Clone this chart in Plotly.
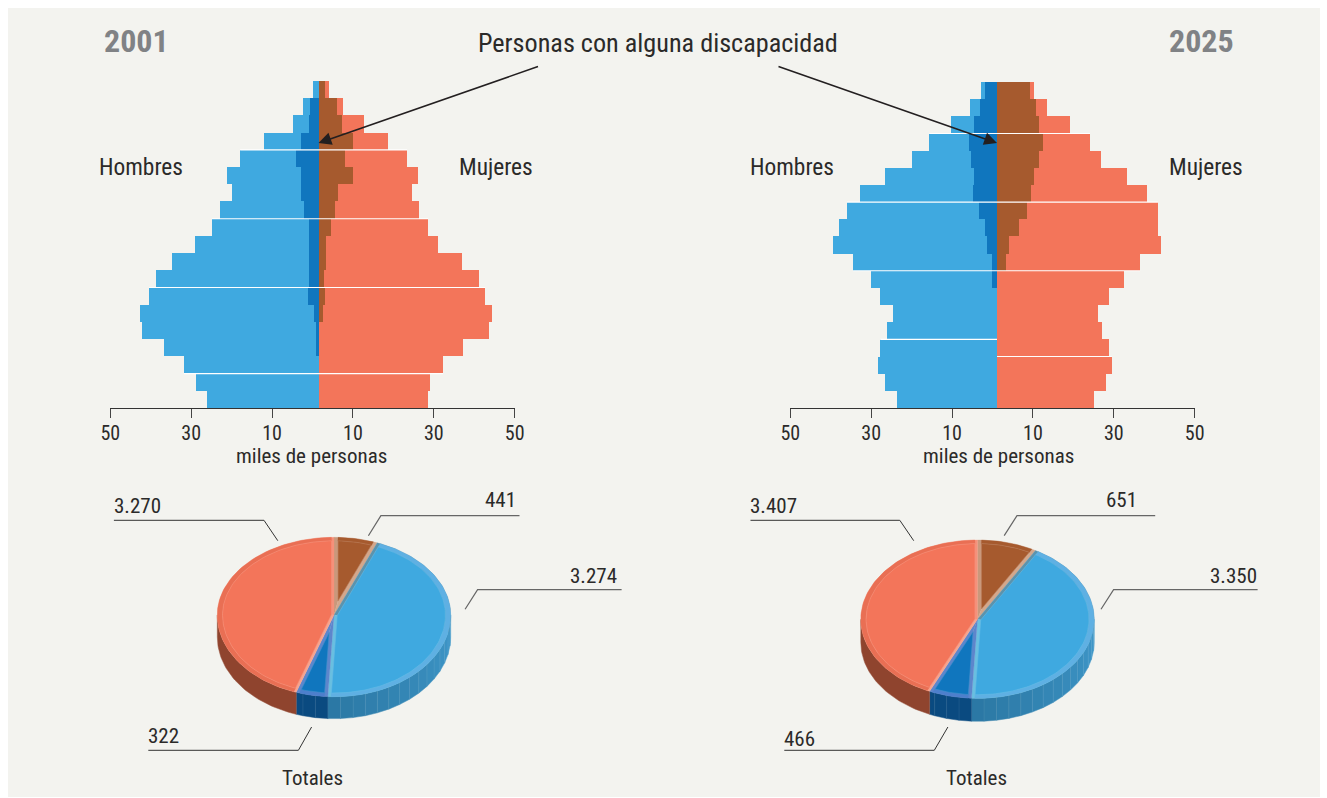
import math
import plotly.graph_objects as go

W, H = 1327, 798
FONT = "Liberation Sans Narrow, Roboto Condensed, Liberation Sans, sans-serif"
INK = "#2b2a29"

# ---- data (miles de personas, rows from oldest at top to youngest at bottom)
ROWS = list(range(19))
M01 = [1.5, 4.0, 6.4, 13.6, 19.5, 22.8, 21.5, 24.5, 26.5, 30.7, 36.4, 40.3, 42.0, 44.3, 43.8, 38.3, 33.4, 30.4, 27.7]
MD01 = [0, 2.2, 2.5, 4.5, 5.7, 4.5, 4.5, 3.7, 2.5, 2.5, 2.5, 2.5, 2.7, 1.2, 0.7, 0.7, 0, 0, 0]
F01 = [2.5, 5.9, 11.1, 17.1, 21.8, 24.5, 23.0, 24.7, 27.0, 29.4, 35.4, 39.6, 41.1, 42.8, 42.0, 35.6, 30.7, 27.5, 27.0]
FD01 = [1.5, 4.5, 5.7, 8.4, 6.4, 8.4, 4.7, 4.0, 3.0, 1.7, 1.7, 1.2, 1.5, 1.0, 0, 0, 0, 0, 0]
M25 = [4.0, 6.7, 11.4, 16.8, 21.0, 27.7, 33.9, 37.1, 39.1, 40.6, 35.6, 31.2, 28.9, 25.7, 27.2, 28.9, 29.4, 27.7, 24.7]
MD25 = [3.0, 4.2, 5.7, 6.9, 6.4, 5.7, 5.9, 4.5, 3.0, 2.5, 1.2, 1.2, 0, 0, 0, 0, 0, 0, 0]
F25 = [9.2, 12.4, 18.1, 23.0, 25.7, 32.2, 37.1, 39.8, 39.8, 40.6, 35.4, 31.4, 27.7, 25.0, 26.0, 27.7, 28.4, 27.0, 24.0]
FD25 = [8.2, 9.6, 10.4, 11.4, 10.4, 9.2, 8.4, 7.4, 5.4, 3.0, 2.2, 0, 0, 0, 0, 0, 0, 0, 0]
TICK_VALUES = [-50, -30, -10, 10, 30, 50]
TICK_LABELS = ["50", "30", "10", "10", "30", "50"]

# pie totals: women with disability, men without, men with, women without
PIE01 = [441, 3274, 322, 3270]
PIE25 = [651, 3350, 466, 3407]

C_M, C_MD, C_F, C_FD = "#3fa9e0", "#1076be", "#f3755a", "#a65a2e"


def dx(p):
    return p / W


def dy(p):
    return 1 - p / H


def domx(a, b):
    return [dx(a), dx(b)]


def domy(top, bottom):
    return [dy(bottom), dy(top)]


fig = go.Figure()


# ---- pyramids
def pyramid(m, md, f, fd, xt, xb, y):
    fig.add_trace(go.Scatter(x=[-50, 50], y=[0, 0], mode="markers", marker=dict(opacity=0),
                             xaxis=xt, yaxis=y, hoverinfo="skip"))
    for vals, col, sign, nm in [(m, C_M, -1, "Hombres"), (f, C_F, 1, "Mujeres"),
                                (md, C_MD, -1, "Hombres con discapacidad"),
                                (fd, C_FD, 1, "Mujeres con discapacidad")]:
        fig.add_trace(go.Bar(y=ROWS, x=[sign * v for v in vals], orientation="h", width=1, name=nm,
                             marker=dict(color=col, line=dict(width=0)), xaxis=xb, yaxis=y))


pyramid(M01, MD01, F01, FD01, "x", "x2", "y")
pyramid(M25, MD25, F25, FD25, "x3", "x4", "y2")

PX_PER_UNIT = 4.044
shapes = [dict(type="rect", xref="paper", yref="paper", x0=dx(8), x1=dx(1320), y0=dy(797), y1=dy(8),
               fillcolor="#f3f3ef", line=dict(width=0), layer="below")]


def seam(xref, yref, row_edge, m, f, left=True, right=True):
    i, j = int(row_edge - 0.5), int(row_edge + 0.5)
    shapes.append(dict(type="line", xref=xref, yref=yref,
                       x0=-max(m[i], m[j]) if left else 0,
                       x1=max(f[i], f[j]) if right else 0,
                       y0=row_edge, y1=row_edge, line=dict(color="#ffffff", width=1.1)))


for e in [3.5, 7.5, 11.5, 16.5]:
    seam("x2", "y", e, M01, F01)
for e in [2.5, 6.5, 10.5]:
    seam("x4", "y2", e, M25, F25)
seam("x4", "y2", 14.5, M25, F25, right=False)
seam("x4", "y2", 15.5, M25, F25, left=False)


# ---- 3D pies
def mix(a, b, t):
    ca = [int(a[i:i + 2], 16) for i in (1, 3, 5)]
    cb = [int(b[i:i + 2], 16) for i in (1, 3, 5)]
    return "#%02x%02x%02x" % tuple(round(p + (q - p) * t) for p, q in zip(ca, cb))


def poly(xa, ya, xs, ys, fill, line=None, lw=0):
    fig.add_trace(go.Scatter(x=xs, y=ys, mode="lines", fill="toself", fillcolor=fill,
                             line=dict(color=line or fill, width=lw if line else 0.3),
                             xaxis=xa, yaxis=ya, hoverinfo="skip"))


def pie(values, xa, ya, ry_top, ry_bot, depth):
    RX = 116.7

    def pt(r, deg, drop=0):
        t = math.radians(deg)
        c = math.cos(t)
        return RX * r * math.sin(t), (ry_top if c > 0 else ry_bot) * r * c - drop

    total = sum(values)
    edges = [0]
    for v in values:
        edges.append(edges[-1] + v * 360 / total)

    def arc(r, a, b, drop=0, step=1.5):
        n = max(2, int(abs(b - a) / step) + 1)
        return [pt(r, a + (b - a) * k / (n - 1), drop) for k in range(n)]

    # side wall, visible on the lower half of the disc
    wall = [("#3f98ca", "#2a76a2", 6.2), ("#0a4a80", "#0a4a80", 6.2), ("#8f442e", "#8f442e", 200)]
    for (c0, c1, step), a, b in zip(wall, edges[1:4], edges[2:5]):
        a2, b2 = max(a, 90), min(b, 270)
        k = 0
        while a2 + k * step < b2:
            s, e = a2 + k * step, min(b2, a2 + (k + 1) * step)
            top = arc(1, s, e)
            low = arc(1, e, s, depth)
            pts = top + low + top[:1]
            col = mix(c0, c1, (s - a2) / max(1, b2 - a2))
            poly(xa, ya, [p[0] for p in pts], [p[1] for p in pts], col, mix(col, "#ffffff", 0.1), 0.5)
            k += 1

    # top surface: slice colour, bevel strips along the radii, rim along the arc
    styles = [
        (C_FD, "#c9987c", "#d3a78c", "#a65a2e", 0.035),
        (C_M, "#5b93ad", "#69bfe0", "#5fb0e3", 0.028),
        (C_MD, "#5d86cc", "#5d86cc", "#4d7fcc", 0.03),
        (C_F, "#f7a38d", "#f5917a", "#e96f54", 0.022),
    ]
    R_IN = 0.955
    for (base, s0, s1, rim, d), a, b in zip(styles, edges[:4], edges[1:5]):
        mid = (a + b) / 2
        for sa, sb, col in [(a, mid, s0), (mid, b, s1)]:
            pts = [(0, 0)] + arc(1, sa, sb) + [(0, 0)]
            poly(xa, ya, [p[0] for p in pts], [p[1] for p in pts], col)
        inner_a = a + math.degrees(math.asin(d))
        inner_b = b - math.degrees(math.asin(d))
        pts = arc(1, inner_a, inner_b) + arc(R_IN, inner_b, inner_a)
        pts.append(pts[0])
        poly(xa, ya, [p[0] for p in pts], [p[1] for p in pts], rim)
        half = math.radians((b - a) / 2)
        apex = pt(d / math.sin(half), mid)
        ia = a + math.degrees(math.asin(d / R_IN))
        ib = b - math.degrees(math.asin(d / R_IN))
        pts = [apex] + arc(R_IN, ia, ib) + [apex]
        poly(xa, ya, [p[0] for p in pts], [p[1] for p in pts], base, mix(base, "#ffffff", 0.2), 0.6)


pie(PIE01, "x5", "y3", 77.7, 81.7, 22)
pie(PIE25, "x6", "y4", 79.3, 79.0, 23)


# ---- texts
def label(text, x, y, anchor="center", size=21, color=INK, bold=False):
    fig.add_annotation(xref="paper", yref="paper", x=dx(x), y=dy(y), text=f"<b>{text}</b>" if bold else text,
                       showarrow=False, xanchor=anchor, yanchor="middle",
                       font=dict(family=FONT, size=size, color=color))


label("2001", 102, 41, "left", 32, "#808285", True)
label("2025", 1167, 41, "left", 32, "#808285", True)
label("Personas con alguna discapacidad", 658, 43, "center", 26.2)
for x, t in [(97, "Hombres"), (457, "Mujeres"), (748, "Hombres"), (1167, "Mujeres")]:
    label(t, x, 167, "left", 23.4)
label("miles de personas", 311.7, 456)
label("miles de personas", 998.5, 456)
label("Totales", 312, 778)
label("Totales", 976, 778)
for t, x, y, a in [("3.270", 112, 506, "left"), ("441", 518, 500, "right"), ("3.274", 619, 575.7, "right"),
                   ("322", 146, 736, "left"), ("3.407", 748, 506, "left"), ("651", 1139, 500, "right"),
                   ("3.350", 1259, 575.7, "right"), ("466", 782, 738.5, "left")]:
    label(t, x, y, a)

for tip_x, tip_y, ax, ay in [(318.5, 143, 221, -77), (997, 143, -220, -77)]:
    fig.add_annotation(xref="paper", yref="paper", x=dx(tip_x), y=dy(tip_y), ax=ax, ay=ay, axref="pixel",
                       ayref="pixel", showarrow=True, arrowhead=2, arrowsize=1.6, arrowwidth=1.6,
                       arrowcolor="#231f20", text="")


# ---- leader lines
def leader(points, color="#333333", width=1):
    path = "M " + " L ".join(f"{dx(x):.5f} {dy(y):.5f}" for x, y in points)
    shapes.append(dict(type="path", xref="paper", yref="paper", path=path, line=dict(color=color, width=width)))


leader([(113.9, 520.3), (264, 520.3), (277.8, 540.7)])
leader([(519.5, 515.7), (380.9, 515.7), (368.4, 535.7)], "#666666", 1.2)
leader([(621.6, 589.7), (477.6, 589.7), (465.1, 609.3)], "#666666", 1.2)
leader([(148.3, 750.3), (298.4, 750.3), (311.6, 727)])
leader([(750.5, 520.3), (899.8, 520.3), (913.7, 540.7)])
leader([(1155.2, 515.7), (1017, 515.7), (1004.2, 535.7)], "#666666", 1.2)
leader([(1257.6, 589.7), (1113.6, 589.7), (1101, 609.3)], "#666666", 1.2)
leader([(784.3, 750.3), (934.3, 750.3), (947.9, 727)])


# ---- axes
def tick_axis(a, b, anchor):
    return dict(domain=domx(a, b), range=[-50, 50], anchor=anchor, tickmode="array", tickvals=TICK_VALUES,
                ticktext=TICK_LABELS, ticks="outside", ticklen=9, tickwidth=1, tickcolor="#444444",
                showline=True, linecolor="#333333", linewidth=1, showgrid=False, zeroline=False,
                ticklabelstandoff=-2,
                tickfont=dict(family=FONT, size=20, color=INK), fixedrange=True)


def bar_axis(a, b, center, over, anchor):
    left = (center - a) / PX_PER_UNIT
    return dict(domain=domx(a, b), range=[-left, 100 - left], overlaying=over, anchor=anchor, visible=False,
                fixedrange=True)


def hidden(dom, rng, anchor):
    return dict(domain=dom, range=rng, anchor=anchor, visible=False, fixedrange=True)


fig.update_layout(
    width=W, height=H, margin=dict(l=0, r=0, t=0, b=0, autoexpand=False), paper_bgcolor="#ffffff",
    plot_bgcolor="rgba(0,0,0,0)",
    showlegend=False, barmode="overlay", bargap=0, shapes=shapes,
    xaxis=tick_axis(110.3, 514.7, "y"),
    xaxis2=bar_axis(110.3, 514.7, 319, "x", "y"),
    xaxis3=tick_axis(790.3, 1194.7, "y2"),
    xaxis4=bar_axis(790.3, 1194.7, 997, "x3", "y2"),
    yaxis=hidden(domy(81, 408), [18.5, -0.5], "x"),
    yaxis2=hidden(domy(82, 408), [18.5, -0.5], "x3"),
    xaxis5=hidden(domx(190, 470), [-144, 136], "y3"),
    yaxis3=hidden(domy(515, 735), [-120, 100], "x5"),
    xaxis6=hidden(domx(834, 1114), [-143.5, 136.5], "y4"),
    yaxis4=hidden(domy(515, 735), [-115.7, 104.3], "x6"),
)

fig.write_html("out.html", config={"displayModeBar": False},
               post_script="document.body.style.margin='0';document.body.style.overflow='hidden';")
